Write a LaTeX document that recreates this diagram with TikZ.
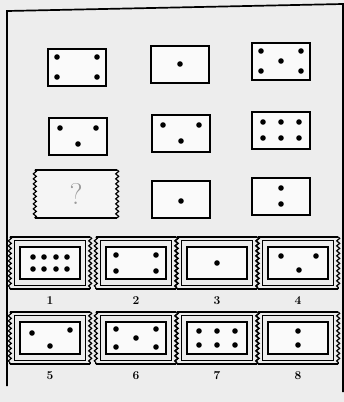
\documentclass[tikz,border=0pt]{standalone}
\usetikzlibrary{decorations.pathmorphing}

\newcommand{\pips}[2]{%
    \foreach \dx/\dy in {#2}{
        \fill ([shift={(\dx,\dy)}]#1.center) circle (2.8pt);
    }}

\begin{document}
\begin{tikzpicture}[x=1pt,y=-1pt,
        card/.style={draw,line width=2pt,fill=gray!4,minimum width=58pt,minimum height=37pt,inner sep=0pt},
        ticket/.style={minimum width=80pt,minimum height=52pt,inner sep=0pt},
        inset/.style={draw,line width=1.8pt,fill=gray!4,minimum width=60pt,minimum height=32pt,inner sep=0pt},
        rim/.style={line width=1.7pt},
        wavy/.style={line width=1.2pt,decorate,decoration={snake,amplitude=1.5pt,segment length=5pt}},
        num/.style={font=\bfseries\large}]

            \useasboundingbox (0,0) rectangle (344,402);
            \fill[gray!14] (0,0) rectangle (344,402);

            % frame
            \draw[rim] (7,386) -- (7,11) -- (343,4) -- (343,392);

            % matrix
            \node[card] (m11) at (77,67) {};
            \node[card] (m12) at (180,64) {};
            \node[card] (m13) at (281,61) {};
            \node[card] (m21) at (78,136) {};
            \node[card] (m22) at (181,133) {};
            \node[card] (m23) at (281,130) {};
            \node[card] (m32) at (181,199) {};
            \node[card] (m33) at (281,196) {};

            \pips{m11}{-20/-10,20/-10,-20/10,20/10}
            \pips{m12}{0/0}
            \pips{m13}{-20/-10,20/-10,0/0,-20/10,20/10}
            \pips{m21}{-18/-8,18/-8,0/8}
            \pips{m22}{-18/-8,18/-8,0/8}
            \pips{m23}{-18/-8,0/-8,18/-8,-18/8,0/8,18/8}
            \pips{m32}{0/2}
            \pips{m33}{0/-8,0/8}

            % missing one
            \node[ticket,minimum width=82pt,minimum height=48pt,fill=gray!8] (m31) at (76,194) {};
            \draw[rim] (m31.north west) -- (m31.north east);
            \draw[rim] (m31.south west) -- (m31.south east);
            \draw[wavy] (m31.north west) -- (m31.south west);
            \draw[wavy] (m31.north east) -- (m31.south east);
            \node[font=\fontsize{30}{30}\selectfont,text=gray!80] at (m31) {?};

            % answers
            \foreach \k/\cx/\cy in {1/50/263,2/136/263,3/217/263,4/298/263,
                                    5/50/338,6/136/338,7/217/338,8/298/338}{
                \node[ticket] (t\k) at (\cx,\cy) {};
                \draw[rim] (t\k.north west) -- (t\k.north east);
                \draw[rim] (t\k.south west) -- (t\k.south east);
                \draw[wavy] (t\k.north west) -- (t\k.south west);
                \draw[wavy] (t\k.north east) -- (t\k.south east);
                \draw[thick] ([shift={(5,4)}]t\k.north west) rectangle ([shift={(-5,-4)}]t\k.south east);
                \node[inset] (c\k) at (t\k) {};
                \node[num] (l\k) at ([yshift=-11pt]t\k.south) {\k};
            }

            \pips{c1}{-17/-6,-6/-6,6/-6,17/-6,-17/6,-6/6,6/6,17/6}
            \pips{c2}{-20/-8,20/-8,-20/8,20/8}
            \pips{c3}{0/0}
            \pips{c4}{-17/-7,18/-7,1/7}
            \pips{c5}{-18/-5,20/-8,0/8}
            \pips{c6}{-20/-9,20/-9,0/0,-20/9,20/9}
            \pips{c7}{-18/-7,0/-7,18/-7,-18/7,0/7,18/7}
            \pips{c8}{0/-7,0/7}
        \end{tikzpicture}
\end{document}
